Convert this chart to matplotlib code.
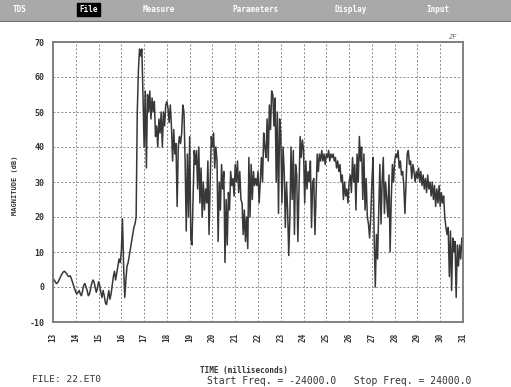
import matplotlib
matplotlib.use("Agg")
import matplotlib.pyplot as plt
import numpy as np

# Señal: magnitud (dB) cada 0.05 ms, de 13 a 31 ms
t_inicio, t_fin, paso = 13.0, 31.0, 0.05
magnitud = [
    # 13 ms
    2.5, 2.0, 1.5, 1.0, 1.2, 1.8, 2.5, 3.2, 3.8, 4.3, 4.5, 4.2, 3.8, 3.2, 3.0, 3.2, 2.5, 1.5, 0.5, -0.5,
    # 14 ms
    -1.5, -2.0, -1.5, -1.0, -2.0, -2.5, -1.0, 0.5, 1.0, 0.0, -1.0, -2.5, -2.0, -0.5, 1.0, 2.0, 1.5, 0.0, -1.5, -0.5,
    # 15 ms
    1.5, 0.5, -1.5, -3.0, -1.0, -2.5, -4.5, -5.0, -3.0, -1.0, -3.5, -2.0, 0.5, 3.0, 4.5, 2.0, 4.0, 6.0, 8.0, 7.0,
    # 16 ms
    10.0, 19.5, 6.0, -3.0, 2.0, 6.0, 7.0, 9.0, 11.0, 13.0, 15.0, 17.0, 18.0, 20.0, 50.0, 62.0, 68.0, 66.0, 68.0, 55.0,
    # 17 ms
    40, 56, 34, 55, 50, 56, 48, 54, 50, 53, 43, 46, 40, 48, 44, 50, 40, 50, 46, 52,
    # 18 ms
    53, 51, 47, 52, 46, 36, 45, 38, 41, 23, 40, 43, 41, 44, 52, 50, 36, 16, 38, 20,
    # 19 ms
    43, 14, 12, 25, 39, 35, 39, 28, 40, 24, 34, 20, 30, 22, 28, 24, 36, 15, 30, 43,
    # 20 ms
    40, 44, 34, 40, 36, 13, 30, 22, 35, 28, 33, 7, 25, 12, 27, 22, 33, 29, 31, 26,
    # 21 ms
    35, 30, 36, 27, 33, 25, 24, 15, 22, 13, 20, 11, 37, 20, 35, 25, 33, 29, 31, 29,
    # 22 ms
    33, 24, 30, 37, 30, 44, 40, 37, 48, 36, 52, 45, 56, 55, 46, 54, 30, 50, 21, 48,
    # 23 ms
    44, 24, 40, 33, 17, 30, 22, 9, 20, 40, 25, 39, 15, 35, 32, 13, 28, 43, 37, 42,
    # 24 ms
    39, 24, 36, 28, 33, 30, 36, 17, 30, 31, 15, 27, 38, 33, 38, 36, 39, 36, 38, 35,
    # 25 ms
    38, 37, 39, 36, 38, 37, 38, 36, 37, 34, 36, 33, 35, 30, 32, 25, 30, 26, 28, 24,
    # 26 ms
    30, 32, 27, 37, 30, 35, 22, 38, 30, 43, 36, 40, 25, 38, 22, 31, 20, 18, 14, 20,
    # 27 ms
    30, 37, 14, 0, 15, 8, 22, 35, 18, 30, 37, 21, 30, 25, 20, 32, 10, 25, 35, 30,
    # 28 ms
    36, 38, 37, 39, 34, 36, 32, 33, 29, 21, 30, 38, 39, 35, 36, 31, 35, 33, 30, 33,
    # 29 ms
    31, 34, 30, 33, 29, 32, 28, 31, 27, 32, 28, 30, 26, 30, 25, 29, 23, 28, 24, 29,
    # 30 ms
    23, 27, 24, 26, 20, 17, 15, 17, 3, 16, -1, 14, 10, 13, -3, 12, 6, 12, 8, 14,
    # 31 ms
    13,
]
tiempo = np.linspace(t_inicio, t_fin, len(magnitud))

x_ticks = list(range(13, 32))
y_ticks = list(range(-10, 71, 10))
menu = ["TDS", "File", "Measure", "Parameters", "Display", "Input"]
menu_x = [0.025, 0.155, 0.28, 0.455, 0.655, 0.835]

fig = plt.figure(figsize=(5.11, 3.87), dpi=100)
fig.patch.set_facecolor("white")
mono = "DejaVu Sans Mono"

# Barra de menu superior
barra = fig.add_axes([0, 1 - 22 / 387, 1, 22 / 387])
barra.set_facecolor("#a9a9a9")
barra.set_xticks([])
barra.set_yticks([])
for s in barra.spines.values():
    s.set_visible(False)
barra.axhline(0.02, color="#707070", linewidth=1.5)
for nombre, xm in zip(menu, menu_x):
    if nombre == "File":
        barra.text(xm, 0.55, nombre, color="white", fontsize=5.5, fontweight="bold",
                   family=mono, va="center",
                   bbox=dict(boxstyle="square,pad=0.25", fc="black", ec="black"))
    else:
        barra.text(xm, 0.55, nombre, color="white", fontsize=5.5, fontweight="bold",
                   family=mono, va="center")

# Grafico principal
ax = fig.add_axes([53 / 511, 1 - 322 / 387, 410 / 511, 280 / 387])
ax.plot(tiempo, magnitud, color="#383838", linewidth=1.1)
ax.set_xlim(13, 31)
ax.set_ylim(-10, 70)
ax.set_xticks(x_ticks)
ax.set_yticks(y_ticks)
ax.set_xticklabels([str(v) for v in x_ticks], rotation=90, fontsize=5.5,
                   fontweight="bold", family=mono, color="#333333")
ax.set_yticklabels([str(v) for v in y_ticks], fontsize=6, fontweight="bold",
                   family=mono, color="#333333")
ax.tick_params(axis="x", length=0, pad=8)
ax.tick_params(axis="y", length=0, pad=6)
ax.grid(True, color="#888888", linestyle=(0, (2, 2)), linewidth=0.7)
for s in ax.spines.values():
    s.set_color("#777777")
    s.set_linewidth(1.3)

fig.text(15 / 511, 1 - 185 / 387, "MAGNITUDE (dB)", rotation=90, fontsize=5,
         fontweight="bold", family=mono, color="#333333", ha="center", va="center")
fig.text(200 / 511, 1 - 371 / 387, "TIME (milliseconds)", fontsize=5.5,
         fontweight="bold", family=mono, color="#333333", va="center")
fig.text(32 / 511, 1 - 379 / 387, "FILE: 22.ET0", fontsize=6.8, family=mono,
         color="#333333", va="center")
fig.text(207 / 511, 1 - 381 / 387, "Start Freq. = -24000.0   Stop Freq. = 24000.0",
         fontsize=7, family=mono, color="#333333", va="center")
fig.text(448 / 511, 1 - 37 / 387, "ZF", fontsize=5, style="italic", family=mono,
         color="#777777", va="center")

fig.savefig("out.png", dpi=100)
